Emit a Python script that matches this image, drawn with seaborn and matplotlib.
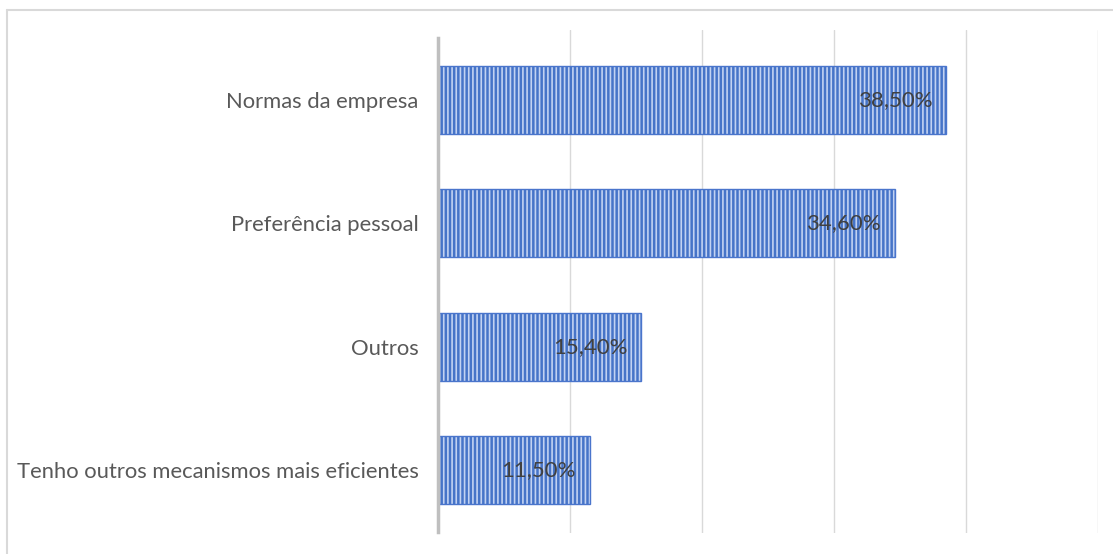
import matplotlib
matplotlib.use("Agg")
import matplotlib.pyplot as plt
import seaborn as sns
import pandas as pd
from matplotlib.lines import Line2D

categories = ["Normas da empresa", "Preferência pessoal", "Outros",
              "Tenho outros mecanismos mais eficientes"]
values = [0.385, 0.346, 0.154, 0.115]
labels = ["38,50%", "34,60%", "15,40%", "11,50%"]

sns.set_theme(style="white")
plt.rcParams['font.family'] = ['Lato', 'DejaVu Sans']
plt.rcParams['hatch.linewidth'] = 1.2

df = pd.DataFrame({"cat": categories, "val": values})

W, H = 1113, 554
fig = plt.figure(figsize=(W / 100, H / 100), dpi=100)
ax = fig.add_axes([438 / W, 1 - 533 / H, (1098 - 438) / W, (533 - 30) / H])

sns.barplot(data=df, x="val", y="cat", orient="h", ax=ax, width=0.55,
            color="#4674c8", edgecolor="#c2d2f2", linewidth=0, hatch="||||",
            saturation=1)
sns.barplot(data=df, x="val", y="cat", orient="h", ax=ax, width=0.55,
            fill=False, edgecolor="#4a75cc", linewidth=1.0)

ax.set_xlim(0, 0.5)
ax.set_ylim(3.511, -0.568)
ax.set_xticks([0.1, 0.2, 0.3, 0.4, 0.5])
ax.xaxis.grid(True, color="#d9d9d9", linewidth=1)
ax.set_axisbelow(True)
ax.tick_params(axis="x", labelbottom=False, length=0)
ax.tick_params(axis="y", length=0, pad=14, labelsize=15.8, labelcolor="#595959")
ax.set_xlabel("")
ax.set_ylabel("")
for s in ["top", "right", "bottom"]:
    ax.spines[s].set_visible(False)
ax.spines["left"].set_color("#bfbfbf")
ax.spines["left"].set_linewidth(2.5)
ax.spines["left"].set_bounds(3.5, -0.5)

for i, (v, lab) in enumerate(zip(values, labels)):
    ax.annotate(lab, xy=(v, i), xytext=(-10, 0), textcoords="offset points",
                ha="right", va="center", fontsize=16, color="#404040")

fig.add_artist(Line2D([7 / W, 1], [1 - 10 / H, 1 - 10 / H],
                      transform=fig.transFigure, color="#d9d9d9", lw=1.5))
fig.add_artist(Line2D([7 / W, 7 / W], [1 - 10 / H, 0],
                      transform=fig.transFigure, color="#d9d9d9", lw=1.5))

fig.savefig("out.png", dpi=100, facecolor="white")
